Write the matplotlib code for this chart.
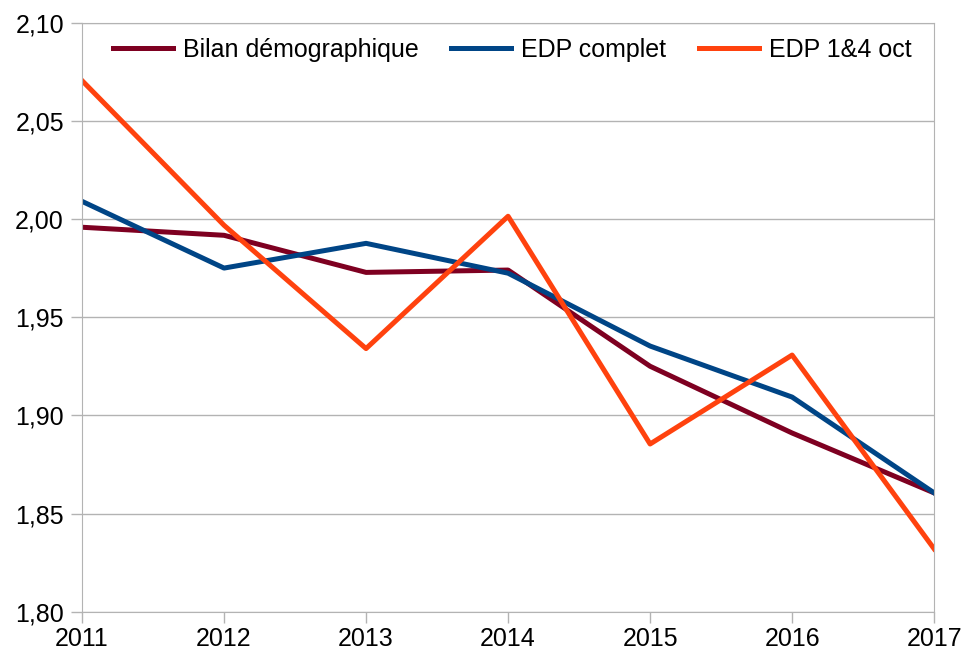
import numpy as np
import matplotlib.pyplot as plt
from matplotlib.ticker import FuncFormatter

plt.rcParams['font.family'] = ['Liberation Sans', 'DejaVu Sans']

years = [2011, 2012, 2013, 2014, 2015, 2016, 2017]
bilan = [1.9958, 1.9917, 1.9728, 1.9740, 1.9250, 1.8910, 1.8605]
edp_complet = [2.0090, 1.9750, 1.9876, 1.9724, 1.9353, 1.9093, 1.8605]
edp_1_4 = [2.0705, 1.9968, 1.9340, 2.0014, 1.8854, 1.9307, 1.8320]

fig = plt.figure(figsize=(9.65, 6.57), dpi=100)
ax = fig.add_axes([0.085, 0.069, 0.883, 0.8965])

ax.plot(years, bilan, color='#7E0021', lw=3.6, label='Bilan démographique')
ax.plot(years, edp_complet, color='#004586', lw=3.6, label='EDP complet')
ax.plot(years, edp_1_4, color='#FF420E', lw=3.6, label='EDP 1&4 oct')

ax.set_xlim(2011, 2017)
ax.set_ylim(1.80, 2.10)
ax.set_xticks(years)
ax.set_yticks(np.arange(1.80, 2.101, 0.05))
ax.yaxis.set_major_formatter(FuncFormatter(lambda v, p: f"{v:.2f}".replace('.', ',')))
ax.grid(axis='y', color='#b3b3b3', lw=1)
ax.set_axisbelow(True)
for s in ax.spines.values():
    s.set_color('#b3b3b3')
ax.tick_params(axis='both', colors='#b3b3b3', labelcolor='black', labelsize=18,
               length=8, width=1)
ax.tick_params(axis='y', pad=5)
ax.tick_params(axis='x', pad=3)

ax.legend(loc='upper center', bbox_to_anchor=(0.505, 1.0), ncol=3, frameon=False,
          fontsize=18, handlelength=2.4, columnspacing=1.3, handletextpad=0.4,
          borderaxespad=0.2)

fig.savefig('out.png', dpi=100)
